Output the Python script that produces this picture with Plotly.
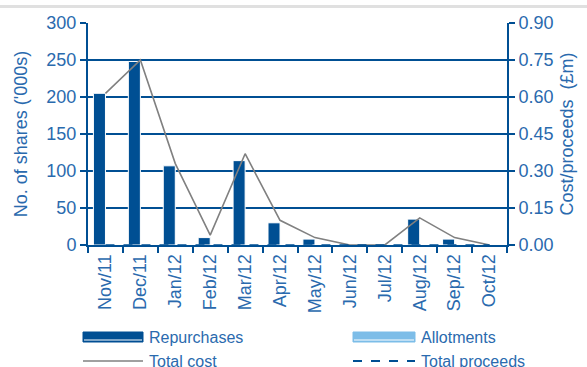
import plotly.graph_objects as go

months = ["Nov/11", "Dec/11", "Jan/12", "Feb/12", "Mar/12", "Apr/12",
          "May/12", "Jun/12", "Jul/12", "Aug/12", "Sep/12", "Oct/12"]
repurchases = [205, 248, 107, 10, 114, 30, 8, 0, 0, 35, 8, 0]
allotments = [0, 0, 0, 0, 0, 0, 0, 0, 0, 0, 0, 0]
total_cost = [0.615, 0.75, 0.33, 0.04, 0.37, 0.10, 0.03, 0.0, 0.0, 0.11, 0.03, 0.0]
total_proceeds = [0, 0, 0, 0, 0, 0, 0, 0, 0, 0, 0, 0]

left_ticks = [0, 50, 100, 150, 200, 250, 300]
right_ticks = [0.0, 0.15, 0.30, 0.45, 0.60, 0.75, 0.90]

DARK = "#004f93"
LIGHT = "#7dbde8"
GREY = "#808080"
TXT = "#2a6aae"
FONT = "Liberation Sans"

fig = go.Figure()
fig.add_bar(x=months, y=repurchases, name="Repurchases", marker_color=DARK,
            marker_line=dict(color="white", width=1), showlegend=False)
fig.add_bar(x=months, y=allotments, name="Allotments", marker_color=LIGHT,
            marker_line=dict(width=0), showlegend=False)
fig.add_scatter(x=months, y=total_cost, name="Total cost", yaxis="y2", mode="lines",
                line=dict(color=GREY, width=1.6), showlegend=False)
fig.add_scatter(x=months, y=total_proceeds, name="Total proceeds", yaxis="y2", mode="lines",
                line=dict(color=DARK, width=1.5, dash="dash"), showlegend=False)

W, H = 587, 367
L, R, T, B = 88, 507, 23, 245


def px(x):
    return (x - L) / (R - L)


def py(y):
    return (B - y) / (B - T)


shapes = [
    dict(type="line", xref="paper", yref="paper", x0=px(0), x1=px(587), y0=py(6.5), y1=py(6.5),
         line=dict(color="#e0e0e0", width=3)),
    # legend symbols
    dict(type="rect", xref="paper", yref="paper", x0=px(83), x1=px(143), y0=py(342), y1=py(332),
         fillcolor=DARK, line=dict(color=DARK, width=1)),
    dict(type="line", xref="paper", yref="paper", x0=px(84), x1=px(142), y0=py(340), y1=py(340),
         line=dict(color="white", width=1)),
    dict(type="rect", xref="paper", yref="paper", x0=px(353), x1=px(415), y0=py(342), y1=py(332),
         fillcolor=LIGHT, line=dict(color=LIGHT, width=1)),
    dict(type="line", xref="paper", yref="paper", x0=px(354), x1=px(414), y0=py(340), y1=py(340),
         line=dict(color="white", width=1)),
    dict(type="line", xref="paper", yref="paper", x0=px(83), x1=px(143), y0=py(361), y1=py(361),
         line=dict(color=GREY, width=1.6)),
    dict(type="line", xref="paper", yref="paper", x0=px(353), x1=px(415), y0=py(361), y1=py(361),
         line=dict(color=DARK, width=2, dash="dash")),
]

annotations = [
    dict(text="Repurchases", xref="paper", yref="paper", x=px(147), y=py(337), xanchor="left",
         yanchor="middle", showarrow=False, font=dict(family=FONT, size=16, color=TXT)),
    dict(text="Total cost", xref="paper", yref="paper", x=px(147), y=py(361), xanchor="left",
         yanchor="middle", showarrow=False, font=dict(family=FONT, size=16, color=TXT)),
    dict(text="Allotments", xref="paper", yref="paper", x=px(419), y=py(337), xanchor="left",
         yanchor="middle", showarrow=False, font=dict(family=FONT, size=16, color=TXT)),
    dict(text="Total proceeds", xref="paper", yref="paper", x=px(419), y=py(361), xanchor="left",
         yanchor="middle", showarrow=False, font=dict(family=FONT, size=16, color=TXT)),
]

fig.update_layout(
    width=W, height=H,
    margin=dict(l=L, r=W - R, t=T, b=H - B),
    paper_bgcolor="white", plot_bgcolor="white",
    barmode="group", bargap=0.31, bargroupgap=0,
    font=dict(family=FONT, size=18, color=TXT),
    xaxis=dict(type="category", range=[-0.5, 11.5], tickangle=-90, tickson="boundaries",
               ticks="outside", ticklen=6, tickcolor=DARK, tickwidth=2,
               showline=True, linecolor=DARK, linewidth=2, showgrid=False,
               tickfont=dict(size=18, color=TXT)),
    yaxis=dict(range=[0, 300], tickvals=left_ticks, showgrid=True, gridcolor=DARK, gridwidth=2,
               showline=True, linecolor=DARK, linewidth=2, ticks="outside", ticklen=6,
               tickcolor=DARK, tickwidth=2, zeroline=False,
               title=dict(text="No. of shares ('000s)", standoff=14, font=dict(size=18, color=TXT)),
               tickfont=dict(size=18, color=TXT)),
    yaxis2=dict(range=[0, 0.9], tickvals=right_ticks, tickformat=".2f", overlaying="y", side="right",
                showgrid=False, showline=True, linecolor=DARK, linewidth=2, ticks="outside",
                ticklen=6, tickcolor=DARK, tickwidth=2, zeroline=False,
                title=dict(text="Cost/proceeds  (£m)", standoff=8, font=dict(size=18, color=TXT)),
                tickfont=dict(size=18, color=TXT)),
    shapes=shapes,
    annotations=annotations,
)

fig.write_html("out.html")
